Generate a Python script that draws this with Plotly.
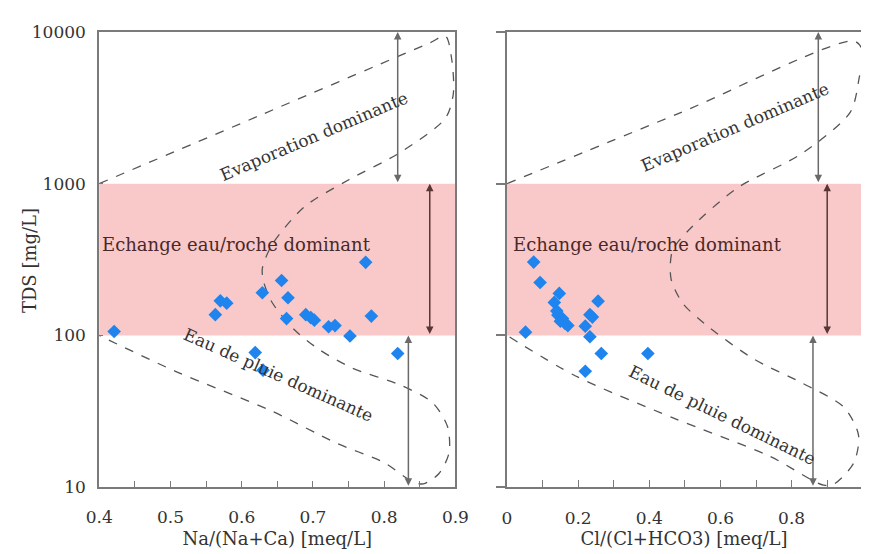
import numpy as np
import plotly.graph_objects as go

# ---- data ----
na_ratio = [0.421, 0.563, 0.570, 0.579, 0.629, 0.656, 0.665, 0.663, 0.690, 0.697,
            0.702, 0.722, 0.731, 0.752, 0.774, 0.782, 0.819, 0.619, 0.630]
tds_left = [106, 137, 169, 163, 191, 230, 177, 129, 137, 131,
            126, 114, 116, 99, 303, 134, 76, 77, 59]

cl_ratio = [0.075, 0.093, 0.147, 0.133, 0.256, 0.233, 0.143, 0.156, 0.171, 0.220,
            0.233, 0.052, 0.265, 0.396, 0.220, 0.140, 0.150, 0.163, 0.240]
tds_right = [304, 223, 189, 165, 168, 137, 136, 129, 116, 115,
             98, 105, 76, 76, 58, 145, 124, 120, 132]

# Gibbs boundary (dashed envelope)
gibbs_left_x = [0.400, 0.632, 0.864, 0.886, 0.895, 0.897, 0.886, 0.823, 0.751, 0.688,
                0.643, 0.629, 0.631, 0.643, 0.674, 0.710, 0.755, 0.823, 0.868, 0.889,
                0.891, 0.877, 0.855, 0.838, 0.800, 0.733, 0.643, 0.507, 0.400]
gibbs_left_y = [1000, 2900, 8470, 9400, 6500, 3890, 2700, 1610, 1064, 703,
                398, 276, 224, 164, 109, 80, 61, 47, 36, 25,
                16.8, 12.3, 10.5, 11.0, 14.5, 19.5, 31.6, 58, 100]

gibbs_right_x = [0.000, 0.490, 0.975, 1.000, 0.990, 0.965, 0.829, 0.647, 0.511, 0.465,
                 0.461, 0.493, 0.556, 0.693, 0.829, 0.947, 0.988, 0.975, 0.920, 0.890,
                 0.738, 0.465, 0.193, 0.000]
gibbs_right_y = [1000, 2950, 8700, 7500, 5000, 2960, 1580, 935, 495, 361,
                 237, 164, 119, 70, 48.6, 33.6, 22, 14.5, 10.5, 10.3,
                 16, 28.7, 54, 100]

band = [100, 1000]
evap_range = [1000, 10000]
rain_range = [10, 100]
arrow_x_left = {"evap": 0.819, "exch": 0.864, "rain": 0.834}
arrow_x_right = {"evap": 0.875, "exch": 0.900, "rain": 0.860}

x_ticks_left = [0.4, 0.5, 0.6, 0.7, 0.8, 0.9]
x_ticks_right = [0, 0.2, 0.4, 0.6, 0.8, 1.0]
y_ticks = [10, 100, 1000, 10000]
y_range_log = [1, 4]

FONT = "DejaVu Serif"
AX = "#7a7a7a"
TXT = "#333333"
BLUE = "#1f84ee"

fig = go.Figure()

for xs, ys, xa, ya in [(gibbs_left_x, gibbs_left_y, "x", "y"),
                       (gibbs_right_x, gibbs_right_y, "x2", "y2")]:
    fig.add_trace(go.Scatter(x=xs, y=ys, xaxis=xa, yaxis=ya, mode="lines",
                             line=dict(color="#555555", width=1.3, dash="dash",
                                       shape="spline", smoothing=0.8),
                             hoverinfo="skip", showlegend=False, cliponaxis=True))

fig.add_trace(go.Scatter(x=na_ratio, y=tds_left, xaxis="x", yaxis="y", mode="markers",
                         marker=dict(symbol="diamond", size=10.5, color=BLUE),
                         showlegend=False, cliponaxis=False))
fig.add_trace(go.Scatter(x=cl_ratio, y=tds_right, xaxis="x2", yaxis="y2", mode="markers",
                         marker=dict(symbol="diamond", size=10.5, color=BLUE),
                         showlegend=False, cliponaxis=False))

# pink band (rock-dominance zone), positioned as a fraction of the log axis
span = y_range_log[1] - y_range_log[0]
b0 = (np.log10(band[0]) - y_range_log[0]) / span
b1 = (np.log10(band[1]) - y_range_log[0]) / span
shapes = []
for xr, yr in [("x domain", "y domain"), ("x2 domain", "y2 domain")]:
    shapes.append(dict(type="rect", xref=xr, yref=yr, x0=0, x1=1,
                       y0=float(b0), y1=float(b1),
                       fillcolor="#f9c9c9", line=dict(width=0), layer="below"))

annotations = []


def add_arrow(xa, ya, x, rng, color):
    annotations.append(dict(x=x, y=float(np.log10(rng[1])), ax=x, ay=float(np.log10(rng[0])),
                            xref=xa, yref=ya, axref=xa, ayref=ya, text="",
                            showarrow=True, arrowhead=2, arrowside="end+start",
                            arrowsize=1.0, arrowwidth=1.5, arrowcolor=color,
                            standoff=0, startstandoff=0))


for xa, ya, ax_pos in [("x", "y", arrow_x_left), ("x2", "y2", arrow_x_right)]:
    add_arrow(xa, ya, ax_pos["evap"], evap_range, "#6a6a6a")
    add_arrow(xa, ya, ax_pos["exch"], band, "#5a3535")
    add_arrow(xa, ya, ax_pos["rain"], rain_range, "#6a6a6a")


def label(xa, ya, x, y, text, angle, color=TXT, size=17):
    annotations.append(dict(x=x, y=float(np.log10(y)), xref=xa, yref=ya, text=text,
                            showarrow=False, textangle=angle,
                            font=dict(family=FONT, size=size, color=color)))


label("x", "y", 0.702, 2050, "Evaporation dominante", -23)
label("x", "y", 0.593, 395, "Echange eau/roche dominant", 0, "#4a2828", 18)
label("x", "y", 0.652, 55, "Eau de pluie dominante", 24)
label("x2", "y2", 0.641, 2350, "Evaporation dominante", -23)
label("x2", "y2", 0.396, 395, "Echange eau/roche dominant", 0, "#4a2828", 18)
label("x2", "y2", 0.605, 30, "Eau de pluie dominante", 26)

tickfont = dict(family=FONT, size=17, color=TXT)
titlefont = dict(family=FONT, size=18, color=TXT)

# y-axis title placed as text close to the tick-label column
annotations.append(dict(x=16 / 875, y=1 - 260 / 554, xref="paper", yref="paper",
                        xanchor="center", yanchor="middle",
                        text="TDS [mg/L]", showarrow=False, textangle=-90,
                        font=titlefont))

fig.update_layout(
    width=875, height=554,
    margin=dict(l=0, r=0, t=0, b=0),
    paper_bgcolor="white", plot_bgcolor="white",
    shapes=shapes, annotations=annotations,
    xaxis=dict(domain=[88 / 875, 456 / 875], range=[0.4, 0.9], anchor="y",
               tickvals=x_ticks_left, ticktext=[f"{v:.1f}" for v in x_ticks_left],
               ticks="inside", ticklen=6, tickwidth=1.2, tickcolor=AX,
               minor=dict(dtick=0.05, ticks="inside", ticklen=6, tickwidth=1.2, tickcolor=AX),
               showline=True, linecolor=AX, linewidth=1.8, mirror=True,
               showgrid=False, zeroline=False, tickfont=tickfont, ticklabelstandoff=14,
               title=dict(text="Na/(Na+Ca) [meq/L]", font=titlefont, standoff=6)),
    yaxis=dict(domain=[1 - 495 / 554, 1 - 22.7 / 554], type="log", range=y_range_log, anchor="x",
               tickvals=y_ticks, ticktext=[str(v) for v in y_ticks],
               ticks="inside", ticklen=4, tickwidth=1.2, tickcolor=AX,
               showline=True, linecolor=AX, linewidth=1.8, mirror=True,
               showgrid=False, zeroline=False, tickfont=tickfont, ticklabelstandoff=8),
    xaxis2=dict(domain=[509.3 / 875, 1.0], range=[0, 0.995], anchor="y2",
                tickvals=x_ticks_right, ticktext=["0", "0.2", "0.4", "0.6", "0.8", "1"],
                ticks="inside", ticklen=7, tickwidth=1.2, tickcolor=AX,
                minor=dict(dtick=0.1, ticks="inside", ticklen=7, tickwidth=1.2, tickcolor=AX),
                showline=True, linecolor=AX, linewidth=2, mirror=True,
                showgrid=False, zeroline=False, tickfont=tickfont, ticklabelstandoff=14,
                title=dict(text="Cl/(Cl+HCO3) [meq/L]", font=titlefont, standoff=6)),
    yaxis2=dict(domain=[1 - 495 / 554, 1 - 22.7 / 554], type="log", range=y_range_log, anchor="x2",
                tickvals=y_ticks, showticklabels=False,
                ticks="outside", ticklen=9, tickwidth=1.5, tickcolor=AX,
                showline=True, linecolor=AX, linewidth=2, mirror=False,
                showgrid=False, zeroline=False),
)

fig.write_html("out.html")
